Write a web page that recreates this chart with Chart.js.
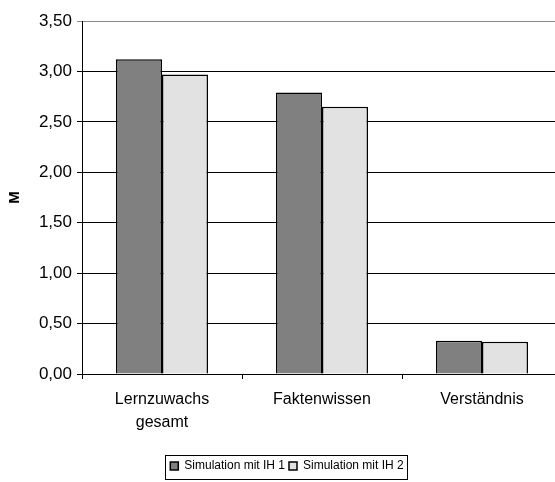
<!DOCTYPE html>
<html>
<head>
<meta charset="utf-8">
<script src="https://cdn.jsdelivr.net/npm/chart.js@4.4.1/dist/chart.umd.min.js"></script>
<style>
    html, body { margin: 0; padding: 0; background: #fff; overflow: hidden; }
    #wrap { width: 570px; height: 482px; }
</style>
</head>
<body>
<div id="wrap"><canvas id="meanChart"></canvas></div>
<script>
// ── data ─────────────────────────────────────────
const categories = [['Lernzuwachs', 'gesamt'], 'Faktenwissen', 'Verständnis'];
const seriesNames = ['Simulation mit IH 1', 'Simulation mit IH 2'];
const ih1Values = [3.12, 2.79, 0.33];
const ih2Values = [2.97, 2.65, 0.32];
const yTicks = [0, 0.5, 1, 1.5, 2, 2.5, 3, 3.5];

const FONT = 'Arial, "Liberation Sans", sans-serif';

// frame round the legend entries
const legendFrame = {
    id: 'legendFrame',
    afterDraw(chart) {
        const boxes = chart.legend && chart.legend.legendHitBoxes;
        if (!boxes || !boxes.length) return;
        const left = Math.min(...boxes.map(b => b.left)) - 5;
        const right = Math.max(...boxes.map(b => b.left + b.width)) + 4;
        const top = Math.min(...boxes.map(b => b.top)) - 5;
        const bottom = Math.max(...boxes.map(b => b.top + b.height)) + 7;
        const ctx = chart.ctx;
        ctx.save();
        ctx.strokeStyle = '#000';
        ctx.lineWidth = 1;
        ctx.strokeRect(Math.round(left) + 0.5, Math.round(top) + 0.5, Math.round(right - left), Math.round(bottom - top));
        ctx.restore();
    }
};

new Chart(document.getElementById('meanChart'), {
    type: 'bar',
    data: {
        labels: categories,
        datasets: [
            {label: seriesNames[0], data: ih1Values, backgroundColor: '#808080', borderColor: '#000', borderWidth: 1.5},
            {label: seriesNames[1], data: ih2Values, backgroundColor: '#e2e2e2', borderColor: '#000', borderWidth: 1.5}
        ]
    },
    options: {
        responsive: true,
        maintainAspectRatio: false,
        animation: false,
        devicePixelRatio: 1,
        datasets: {bar: {categoryPercentage: 0.575, barPercentage: 1}},
        layout: {padding: {top: 21, right: 8, left: 12, bottom: 0}},
        plugins: {
            legend: {
                position: 'bottom',
                labels: {
                    color: '#000',
                    boxWidth: 8,
                    boxHeight: 8,
                    padding: 4,
                    font: {family: FONT, size: 12}
                }
            },
            tooltip: {enabled: false}
        },
        scales: {
            x: {
                grid: {display: true, drawOnChartArea: false, color: '#000', tickLength: 5, offset: true},
                border: {color: '#000', width: 1},
                ticks: {color: '#000', font: {family: FONT, size: 16, lineHeight: 1.45}, padding: 9, maxRotation: 0},
                afterFit: s => { s.height = 82; }
            },
            y: {
                min: 0,
                max: 3.5,
                afterBuildTicks: s => { s.ticks = yTicks.map(v => ({value: v})); },
                ticks: {
                    color: '#000',
                    font: {family: FONT, size: 17},
                    padding: 5,
                    callback: v => v.toFixed(2).replace('.', ',')
                },
                grid: {
                    color: ctx => ctx.tick && ctx.tick.value === 3.5 ? '#8a8a8a' : '#000',
                    tickLength: 5
                },
                border: {color: '#000', width: 1},
                title: {display: true, text: 'M', color: '#000', font: {family: FONT, size: 15, weight: 'bold'}, padding: {top: -6, bottom: 0}},
                afterFit: s => { s.width = 70; }
            }
        }
    },
    plugins: [legendFrame]
});
</script>
</body>
</html>
